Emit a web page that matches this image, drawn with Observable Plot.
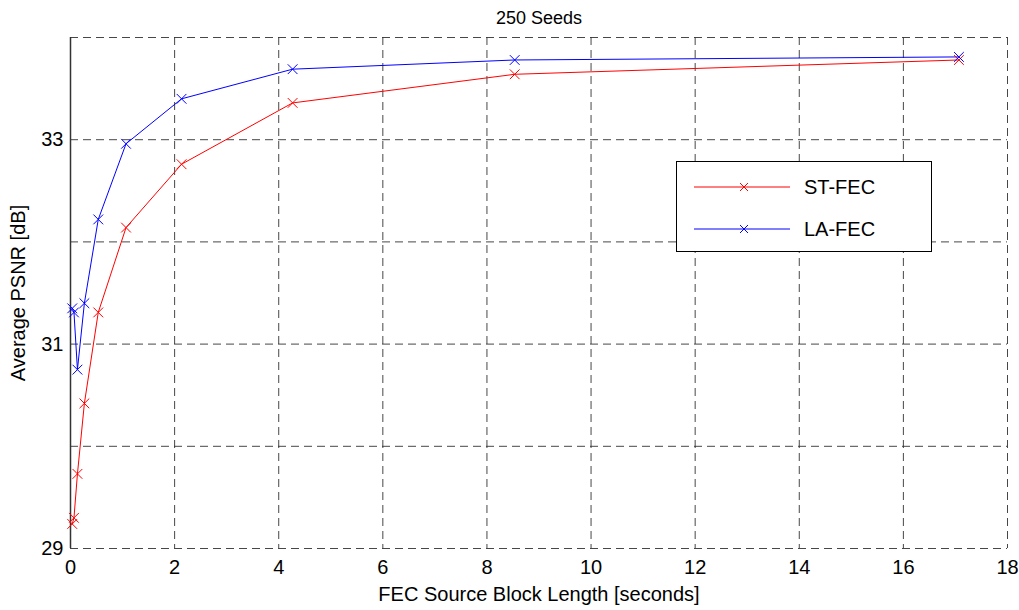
<!DOCTYPE html>
<html>
<head>
<meta charset="utf-8">
<script src="https://cdn.jsdelivr.net/npm/d3@7"></script>
<script src="https://cdn.jsdelivr.net/npm/@observablehq/plot@0.6"></script>
<style>
  html, body { margin: 0; padding: 0; background: #fff; }
  #wrap { position: relative; width: 1019px; height: 610px; font-family: "Liberation Sans", Arial, sans-serif; }
  #legend { position: absolute; left: 676px; top: 161px; width: 256px; height: 91px; border: 1px solid #000; background: #fff; box-sizing: border-box; }
  #legend .row { position: absolute; left: 0; height: 30px; display: flex; align-items: center; }
  #legend .lab { font-size: 20px; color: #000; margin-left: 12px; }
</style>
</head>
<body>
<div id="wrap"></div>
<script>
const title = "250 Seeds";
const xLabel = "FEC Source Block Length [seconds]";
const yLabel = "Average PSNR [dB]";
const seriesNames = ["ST-FEC", "LA-FEC"];
const seriesColors = ["#ff0000", "#0000ff"];
const blockLength = [0.0333, 0.0667, 0.1333, 0.2667, 0.5333, 1.0667, 2.1333, 4.2667, 8.5333, 17.0667];
const stFec = [29.24, 29.30, 29.73, 30.42, 31.31, 32.14, 32.76, 33.36, 33.64, 33.78];
const laFec = [31.35, 31.31, 30.75, 31.40, 32.22, 32.96, 33.40, 33.69, 33.78, 33.81];
const xTicks = [0, 2, 4, 6, 8, 10, 12, 14, 16, 18];
const yTicks = [29, 30, 31, 32, 33, 34];
const yTickLabels = [29, 31, 33];

const rows = [];
[stFec, laFec].forEach((vals, s) => vals.forEach((v, i) => rows.push({series: seriesNames[s], x: blockLength[i], y: v})));

const gridStyle = {stroke: "#333", strokeOpacity: 0.9, strokeWidth: 1, strokeDasharray: "8,5"};

const chart = Plot.plot({
  width: 1019,
  height: 610,
  marginLeft: 70,
  marginRight: 12,
  marginTop: 37,
  marginBottom: 62,
  style: {fontFamily: "'Liberation Sans', Arial, sans-serif", fontSize: "20px", background: "#fff", color: "#000"},
  x: {domain: [0, 18]},
  y: {domain: [29, 34]},
  color: {domain: seriesNames, range: seriesColors},
  marks: [
    Plot.ruleX(xTicks.filter(d => d > 0), {...gridStyle}),
    Plot.ruleY(yTicks, {...gridStyle}),
    Plot.ruleX([0], {stroke: "#333", strokeWidth: 1.5}),
    Plot.line(rows, {x: "x", y: "y", z: "series", stroke: "series", strokeWidth: 1}),
    Plot.dot(rows, {x: "x", y: "y", stroke: "series", symbol: "times", r: 4.5, strokeWidth: 1}),
    Plot.axisX(xTicks, {tickSize: 0, tickPadding: 11, fontSize: 20, tickFormat: d3.format("d"), label: xLabel, labelAnchor: "center", labelOffset: 52, labelArrow: "none"}),
    Plot.axisY(yTickLabels, {tickSize: 0, tickPadding: 7, fontSize: 20, tickFormat: d3.format("d"), label: yLabel, labelAnchor: "center", labelOffset: 60, labelArrow: "none"}),
    Plot.text([title], {frameAnchor: "top", dy: -26, fontSize: 18, text: d => d})
  ]
});
const wrap = document.getElementById("wrap");
wrap.appendChild(chart);

// legend overlay
const legend = document.createElement("div");
legend.id = "legend";
seriesNames.forEach((name, i) => {
  const row = document.createElement("div");
  row.className = "row";
  row.style.top = (i === 0 ? 10 : 52) + "px";
  row.innerHTML = `<svg width="115" height="30"><line x1="17" x2="113" y1="15" y2="15" stroke="${seriesColors[i]}" stroke-width="1"/><path d="M63,11L71,19M71,11L63,19" stroke="${seriesColors[i]}" stroke-width="1" fill="none"/></svg><span class="lab">${name}</span>`;
  legend.appendChild(row);
});
wrap.appendChild(legend);
</script>
</body>
</html>
